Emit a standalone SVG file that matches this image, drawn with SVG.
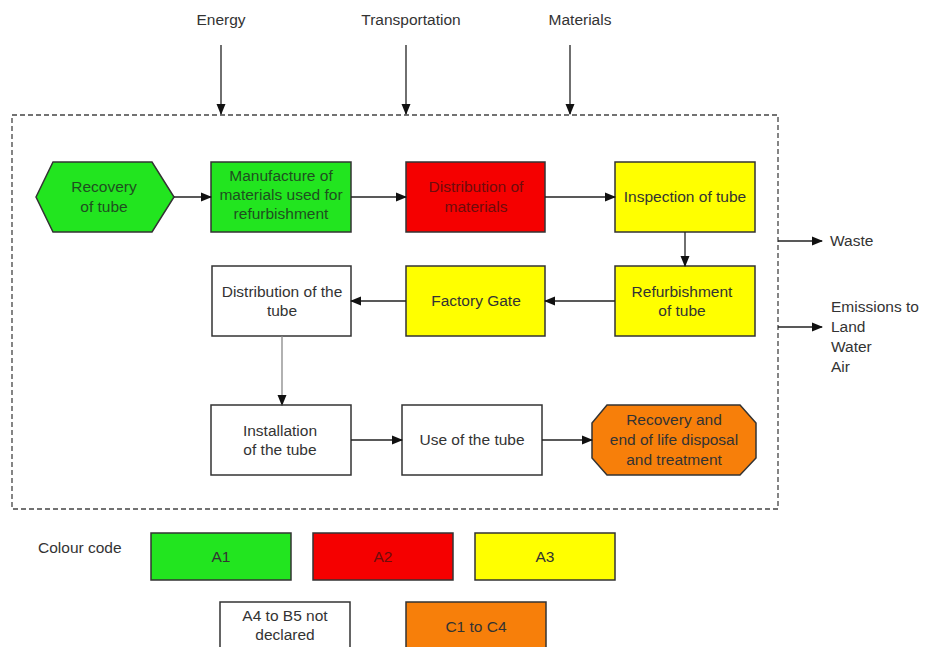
<svg xmlns="http://www.w3.org/2000/svg" width="927" height="647" viewBox="0 0 927 647">
<defs>
<marker id="ah" markerWidth="11" markerHeight="11" refX="10" refY="5.5" orient="auto" markerUnits="userSpaceOnUse">
<path d="M0,1 L11,5.5 L0,10 Z" fill="#111"/>
</marker>
<style>
text{font-family:"Liberation Sans",Arial,sans-serif;font-size:15.5px;fill:#333;text-anchor:middle}
.lbl{text-anchor:start}
.box{stroke:#333;stroke-width:1.5}
.g{fill:#22e51f}.r{fill:#f50000}.y{fill:#ffff00}.o{fill:#f77f0a}.w{fill:#fff}
.con{stroke:#222;stroke-width:1.3;fill:none;marker-end:url(#ah)}
.rt{fill:#6e0c0c}.gt{fill:#1f4f1f}
</style>
</defs>
<rect width="927" height="647" fill="#fff"/>
<rect x="12" y="115" width="766" height="394" fill="none" stroke="#444" stroke-width="1.3" stroke-dasharray="5,3"/>

<text x="221" y="25">Energy</text>
<text x="411" y="25">Transportation</text>
<text x="580" y="25">Materials</text>

<g id="n1"><polygon class="box g" points="36,197 53,162 152,162 174,197 152,232 53,232"/><text class="gt" x="104" y="192">Recovery</text><text class="gt" x="104" y="212">of  tube</text></g>
<g id="n2"><rect class="box g" x="211" y="162" width="140" height="70"/><text class="gt" x="281" y="181">Manufacture of</text><text class="gt" x="281" y="200">materials used for</text><text class="gt" x="281" y="219">refurbishment</text></g>
<g id="n3"><rect class="box r" x="406" y="162" width="139" height="70"/><text class="rt" x="476" y="192">Distribution of</text><text class="rt" x="476" y="212">materials</text></g>
<g id="n4"><rect class="box y" x="615" y="162" width="140" height="70"/><text x="685" y="202">Inspection of tube</text></g>
<g id="n5"><rect class="box y" x="615" y="266" width="140" height="70"/><text x="682" y="297">Refurbishment</text><text x="682" y="316">of tube</text></g>
<g id="n6"><rect class="box y" x="406" y="266" width="139" height="70"/><text x="476" y="306">Factory Gate</text></g>
<g id="n7"><rect class="box w" x="212" y="266" width="139" height="70"/><text x="282" y="297">Distribution of the</text><text x="282" y="316">tube</text></g>
<g id="n8"><rect class="box w" x="211" y="405" width="140" height="70"/><text x="280" y="436">Installation</text><text x="280" y="455">of the tube</text></g>
<g id="n9"><rect class="box w" x="402" y="405" width="140" height="70"/><text x="472" y="445">Use of the tube</text></g>
<g id="n10"><polygon class="box o" points="607,405 740,405 756,423 756,458 740,475 607,475 592,458 592,423"/><text x="674" y="425">Recovery and</text><text x="674" y="445">end of life disposal</text><text x="674" y="465">and treatment</text></g>

<g id="outputs">
<text class="lbl" x="830" y="246">Waste</text>
<text class="lbl" x="831" y="312">Emissions to</text>
<text class="lbl" x="831" y="332">Land</text>
<text class="lbl" x="831" y="352">Water</text>
<text class="lbl" x="831" y="372">Air</text>
</g>

<g id="connectors">
<path class="con" d="M221,45 V114"/>
<path class="con" d="M406,45 V114"/>
<path class="con" d="M570,45 V114"/>
<path class="con" d="M174,197 H211"/>
<path class="con" d="M351,197 H406"/>
<path class="con" d="M545,197 H615"/>
<path class="con" d="M685,232 V266"/>
<path class="con" d="M615,301 H545"/>
<path class="con" d="M406,301 H351"/>
<path class="con" d="M282,336 V405" style="stroke:#888"/>
<path class="con" d="M351,440 H402"/>
<path class="con" d="M542,440 H592"/>
<path class="con" d="M778,241 H822"/>
<path class="con" d="M778,327 H822"/>
</g>

<g id="legend">
<text class="lbl" x="38" y="553">Colour code</text>
<g id="l1"><rect class="box g" x="151" y="533" width="140" height="47"/><text x="221" y="562">A1</text></g>
<g id="l2"><rect class="box r" x="313" y="533" width="140" height="47"/><text class="rt" x="383" y="562">A2</text></g>
<g id="l3"><rect class="box y" x="475" y="533" width="140" height="47"/><text x="545" y="562">A3</text></g>
<g id="l4"><rect class="box w" x="220" y="602" width="130" height="50"/><text x="285" y="621">A4 to B5 not</text><text x="285" y="640">declared</text></g>
<g id="l5"><rect class="box o" x="406" y="602" width="140" height="50"/><text x="476" y="632">C1 to C4</text></g>
</g>
</svg>
